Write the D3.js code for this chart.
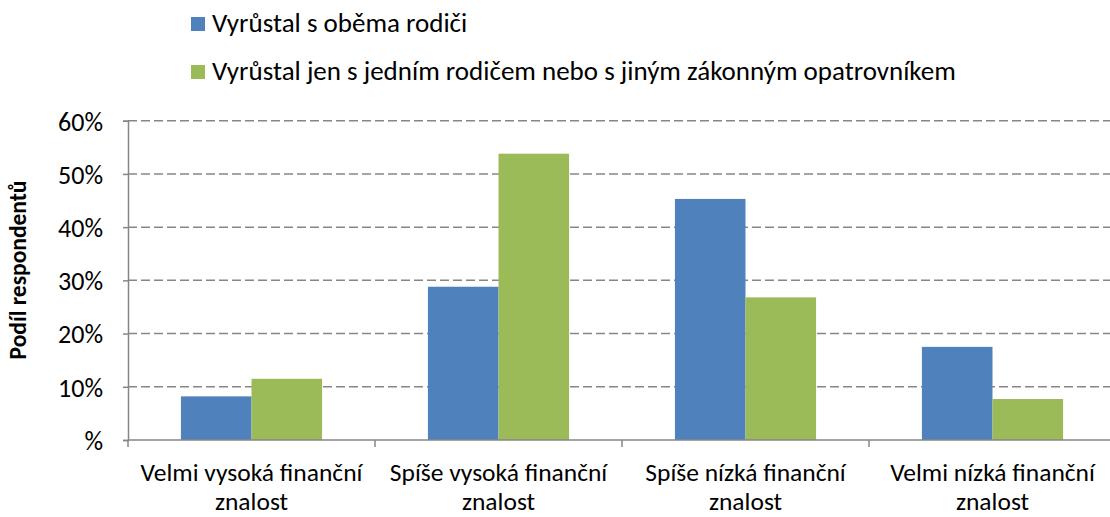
<!DOCTYPE html>
<html><head><meta charset="utf-8">
<script src="https://cdn.jsdelivr.net/npm/d3@7"></script>
<style>body{margin:0;background:#fff}svg{display:block}text{font-family:Carlito,Calibri,"Liberation Sans Narrow","Open Sans",sans-serif;fill:#000}</style>
</head><body><svg id="c" width="1110" height="517"></svg>
<script>
const categories = [["Velmi vysoká finanční","znalost"],["Spíše vysoká finanční","znalost"],["Spíše nízká finanční","znalost"],["Velmi nízká finanční","znalost"]];
const seriesNames = ["Vyrůstal s oběma rodiči","Vyrůstal jen s jedním rodičem nebo s jiným zákonným opatrovníkem"];
const bothParents = [8.2, 28.8, 45.3, 17.5];
const oneParent = [11.5, 53.8, 26.8, 7.7];
const yTicks = [0,10,20,30,40,50,60];
const yTickLabels = ["%","10%","20%","30%","40%","50%","60%"];
const colors = ["#4F81BD","#9BBB59"];

const svg = d3.select("#c");
const x0 = d3.scaleBand().domain(d3.range(categories.length)).range([128,1116]).paddingInner(0).paddingOuter(0);
const x1 = d3.scaleBand().domain([0,1]).range([0,x0.bandwidth()]).paddingOuter(0.75).paddingInner(0);
const y = d3.scaleLinear().domain([0,60]).range([440,120.7]);

// gridlines
svg.append("g").selectAll("line").data(yTicks.filter(d=>d>0)).join("line")
  .attr("x1",128).attr("x2",1116).attr("y1",d=>y(d)).attr("y2",d=>y(d))
  .attr("stroke","#868686").attr("stroke-width",1.5).attr("stroke-dasharray","9,4");

// bars
const series=[bothParents,oneParent];
series.forEach((s,si)=>{
  svg.append("g").selectAll("rect").data(s).join("rect")
    .attr("x",(d,i)=>x0(i)+x1(si)).attr("width",x1.bandwidth())
    .attr("y",d=>y(d)).attr("height",d=>y(0)-y(d))
    .attr("fill",colors[si]);
});

// y axis
const ya = svg.append("g").attr("transform","translate(128,0)")
  .call(d3.axisLeft(y).tickValues(yTicks).tickFormat((d,i)=>yTickLabels[i]).tickSize(5).tickPadding(20));
ya.select(".domain").attr("stroke","#868686").attr("stroke-width",1.5);
ya.selectAll(".tick line").attr("stroke","#868686").attr("stroke-width",1.5);
ya.selectAll(".tick text").attr("font-size",26).attr("font-family",null).attr("dy","0.36em").style("fill","#000");

// x axis
svg.append("line").attr("x1",128).attr("x2",1116).attr("y1",y(0)).attr("y2",y(0)).attr("stroke","#868686").attr("stroke-width",1.5);
svg.append("g").selectAll("line").data(d3.range(categories.length+1)).join("line")
  .attr("x1",i=>128+i*x0.bandwidth()).attr("x2",i=>128+i*x0.bandwidth())
  .attr("y1",y(0)).attr("y2",y(0)+7).attr("stroke","#868686").attr("stroke-width",1.5);
const xl = svg.append("g").selectAll("text").data(categories).join("text")
  .attr("x",(d,i)=>x0(i)+x0.bandwidth()/2).attr("y",481).attr("text-anchor","middle").attr("font-size",25.5);
xl.selectAll("tspan").data(d=>d).join("tspan").attr("x",function(){return this.parentNode.getAttribute("x");})
  .attr("dy",(d,i)=>i?29:0).text(d=>d);

// y title
svg.append("text").attr("transform","translate(26,270) rotate(-90)").attr("text-anchor","middle")
  .attr("font-size",23.5).attr("font-weight","bold").text("Podíl respondentů");

// legend
const lg = svg.append("g").selectAll("g").data(seriesNames).join("g")
  .attr("transform",(d,i)=>`translate(191,${17+i*48})`);
lg.append("rect").attr("width",14).attr("height",14).attr("fill",(d,i)=>colors[i]);
lg.append("text").attr("x",21).attr("y",14.5).attr("font-size",27).text(d=>d);
</script></body></html>
